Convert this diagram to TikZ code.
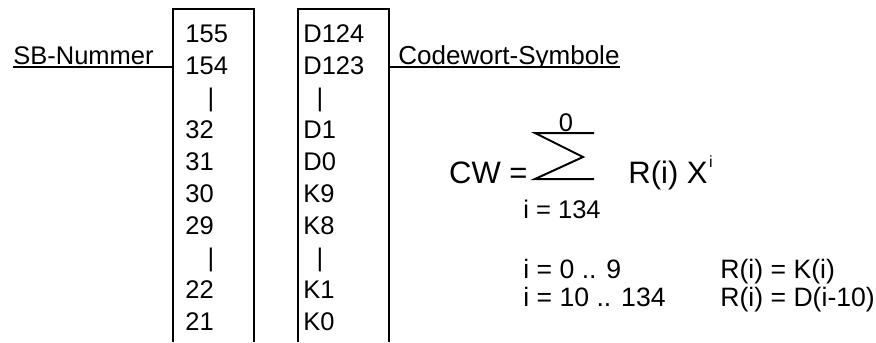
\documentclass[tikz,border=0pt]{standalone}
\usepackage{fontspec}
\setmainfont{Liberation Sans}
\begin{document}
\begin{tikzpicture}[x=0.5pt,y=-0.5pt,
  lbl/.style={inner sep=0pt,anchor=base west,font=\fontsize{12.75}{15}\selectfont},
  rng/.style={inner sep=0pt,anchor=base west,font=\fontsize{13.3}{16}\selectfont},
  big/.style={inner sep=0pt,anchor=base west,font=\fontsize{15.5}{18}\selectfont},
  bar/.style={inner sep=0pt,anchor=base,font=\fontsize{12.75}{15}\selectfont},
  frame/.style={line width=1pt},
  uline/.style={line width=0.8pt}]
\useasboundingbox (0,0) rectangle (876,342);

% the two registers, open at the bottom
\coordinate (b1bl) at (173,342); \coordinate (b1tl) at (173,9);
\coordinate (b1tr) at (254,9);   \coordinate (b1br) at (254,342);
\coordinate (b2bl) at (298,342); \coordinate (b2tl) at (298,9);
\coordinate (b2tr) at (389,9);   \coordinate (b2br) at (389,342);
\draw[frame] (b1bl) -- (b1tl) -- (b1tr) -- (b1br);
\draw[frame] (b2bl) -- (b2tl) -- (b2tr) -- (b2br);

% register contents
\foreach \t/\k in {155/0,154/1,32/3,31/4,30/5,29/6,22/8,21/9}
  \node[lbl] (n\k) at (185,{43+31.9*\k}) {\t};
\foreach \t/\k in {D124/0,D123/1,D1/3,D0/4,K9/5,K8/6,K1/8,K0/9}
  \node[lbl] (d\k) at (303,{43+31.9*\k}) {\t};
\node[bar] (n2) at (211,{43+31.9*2}) {|};
\node[bar] (n7) at (211,{43+31.9*7}) {|};
\node[bar] (d2) at (320,{43+31.9*2}) {|};
\node[bar] (d7) at (320,{43+31.9*7}) {|};

% side labels
\node[lbl] (sb) at (13,65) {SB-Nummer};
\coordinate (sbu) at (13,67);
\draw[uline] (sbu) -- (sbu -| b1tl);
\begin{scope}
  \clip (392,0) rectangle (650,67.5);
  \node[lbl,font=\fontsize{13}{15}\selectfont] (cw) at (398,65) {Codewort-Symbole};
\end{scope}
\coordinate (cwu) at (cw.east |- 0,67);
\draw[uline] (cwu -| b2tr) -- (cwu);

% code word polynomial
\node[big,anchor=base east] (cweq) at (528,183) {CW =};
\coordinate (s1) at (594,133); \coordinate (s2) at (535,133);
\coordinate (s3) at (583,157); \coordinate (s4) at (535,179);
\coordinate (s5) at (594,179);
\draw[frame,line join=miter] (s1) -- (s2) -- (s3) -- (s4) -- (s5);
\node[bar] (top) at (566,131) {0};
\node[lbl] (bot) at (523,218) {i = 134};
\node[big] (term) at (628,183) {R(i) X};
\node[inner sep=0pt,anchor=base west,font=\fontsize{8}{9}\selectfont] (expo) at (term.base east) [xshift=0.3pt,yshift=8pt] {i};

% index ranges
\node[rng] (r1) at (523,278) {i = 0 .. 9};
\node[rng] (r2) at (523,306) {i = 10 .. 134};
\node[rng] (k1) at (720,278) {R(i) = K(i)};
\node[rng] (k2) at (720,306) {R(i) = D(i-10)};
\end{tikzpicture}
\end{document}
